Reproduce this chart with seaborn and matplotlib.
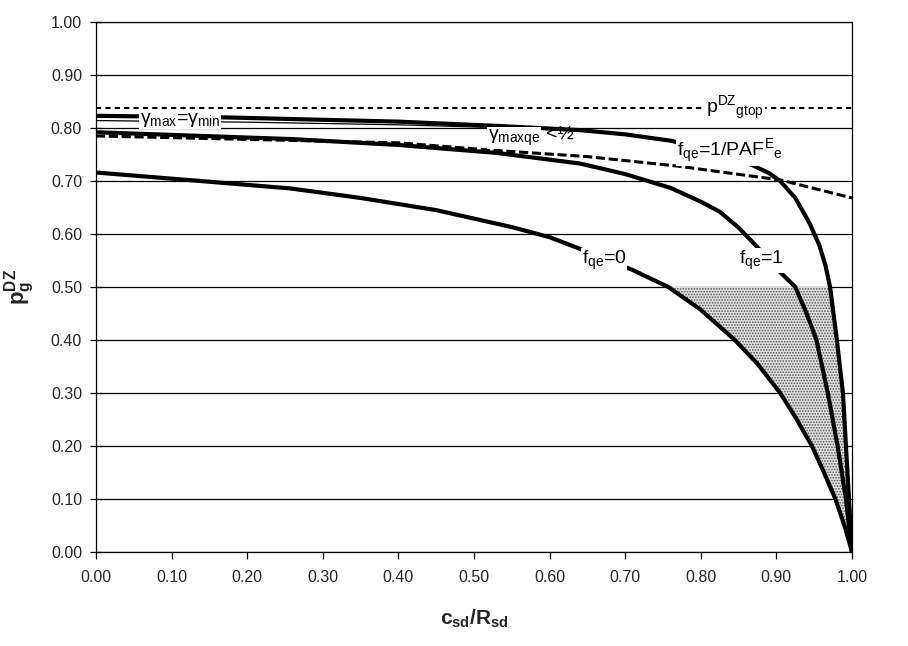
import numpy as np
import pandas as pd
import matplotlib
matplotlib.use("Agg")
import matplotlib.pyplot as plt
import seaborn as sns

# ---- data ----
x_f0 = [0.0, 0.138, 0.257, 0.35, 0.45, 0.55, 0.60, 0.64, 0.71, 0.757, 0.80, 0.845, 0.875,
        0.905, 0.927, 0.947, 0.963, 0.978, 0.990, 1.0]
y_f0 = [0.716, 0.700, 0.686, 0.668, 0.645, 0.613, 0.594, 0.572, 0.532, 0.50, 0.457, 0.40, 0.355,
        0.30, 0.25, 0.20, 0.15, 0.10, 0.05, 0.0]

x_f1 = [0.0, 0.26, 0.40, 0.53, 0.64, 0.70, 0.76, 0.80, 0.825, 0.85, 0.875, 0.90, 0.925, 0.94,
        0.953, 0.968, 0.981, 0.992, 1.0]
y_f1 = [0.792, 0.779, 0.768, 0.753, 0.733, 0.713, 0.687, 0.661, 0.642, 0.612, 0.575, 0.535, 0.50,
        0.45, 0.40, 0.30, 0.20, 0.10, 0.0]

x_paf = [0.0, 0.17, 0.40, 0.53, 0.64, 0.70, 0.76, 0.82, 0.868, 0.89, 0.905, 0.925, 0.944,
         0.957, 0.965, 0.971, 0.980, 0.988, 0.992, 0.996, 1.0]
y_paf = [0.823, 0.820, 0.812, 0.804, 0.796, 0.788, 0.776, 0.756, 0.730, 0.715, 0.700, 0.668, 0.620,
         0.578, 0.540, 0.50, 0.40, 0.30, 0.20, 0.10, 0.0]

x_gmin = [0.0, 0.20, 0.40, 0.55]
y_gmin = [0.814, 0.811, 0.806, 0.800]

x_gq = [0.0, 0.40, 0.525, 0.65, 0.77, 0.905, 1.0]
y_gq = [0.785, 0.772, 0.758, 0.746, 0.728, 0.702, 0.668]

x_top = [0.0, 1.0]
y_top = [0.838, 0.838]

shade_top = 0.50

x_ticks = [0.0, 0.1, 0.2, 0.3, 0.4, 0.5, 0.6, 0.7, 0.8, 0.9, 1.0]
y_ticks = [0.0, 0.1, 0.2, 0.3, 0.4, 0.5, 0.6, 0.7, 0.8, 0.9, 1.0]

# ---- style ----
sns.set_theme(style="white")
plt.rcParams['font.family'] = ['Liberation Sans', 'DejaVu Sans']
plt.rcParams['mathtext.fontset'] = 'custom'
plt.rcParams['mathtext.rm'] = 'Liberation Sans'
plt.rcParams['mathtext.it'] = 'Liberation Sans'
plt.rcParams['mathtext.bf'] = 'Liberation Sans:bold'
plt.rcParams['hatch.linewidth'] = 0.8

fig = plt.figure(figsize=(9.08, 6.46), dpi=100)
ax = fig.add_axes([96/908, 1-552/646, (852-96)/908, (552-22)/646])

# gridlines
for yv in y_ticks:
    ax.axhline(yv, color='black', lw=0.9, zorder=1)

# shaded region between f=0 and f=1/PAF below 0.5
yy = np.linspace(0, shade_top, 300)
xl = np.interp(yy, y_f0[::-1], x_f0[::-1])
xr = np.interp(yy, y_paf[::-1], x_paf[::-1])
ax.fill_betweenx(yy, xl, xr, facecolor='#e0e0e0', edgecolor='#555555', hatch='......',
                 lw=0, zorder=2)

def draw(xs, ys, lw, ls, dashes=None):
    df = pd.DataFrame({'x': xs, 'y': ys})
    sns.lineplot(data=df, x='x', y='y', ax=ax, color='black', lw=lw, estimator=None,
                 sort=False, zorder=3)
    line = ax.lines[-1]
    line.set_linestyle(ls)
    if dashes is not None:
        line.set_dashes(dashes)
    line.set_solid_capstyle('butt')
    line.set_dash_capstyle('butt')
    line.set_solid_joinstyle('round')
    return line

draw(x_top, y_top, 1.5, '--', (2.5, 2.0))
draw(x_gmin, y_gmin, 0.9, '-')
draw(x_gq, y_gq, 2.2, '--', (3.0, 1.2))
draw(x_f0, y_f0, 3.0, '-')
draw(x_f1, y_f1, 3.0, '-')
draw(x_paf, y_paf, 3.0, '-')

bbox = dict(boxstyle='square,pad=0.05', fc='white', ec='none')
tk = dict(ha='center', va='center', fontsize=14, color='black', zorder=5, bbox=bbox)
ax.text(0.111, 0.816, r'γ$\mathregular{_{max}}$=γ$\mathregular{_{min}}$', **tk)
ax.text(0.553, 0.781, r'γ$\mathregular{_{maxqe}}$', **tk)
ax.text(0.613, 0.787, '<½', ha='center', va='center', fontsize=14, color='black', zorder=5)
ax.text(0.845, 0.838, r'p$\mathregular{^{DZ}}$$\mathregular{_{gtop}}$', **tk)
ax.text(0.839, 0.757, r'f$\mathregular{_{qe}}$=1/PAF$\mathregular{^{E}}$$\mathregular{_{e}}$', **tk)
ax.text(0.880, 0.550, r'f$\mathregular{_{qe}}$=1', **tk)
ax.text(0.672, 0.550, r'f$\mathregular{_{qe}}$=0', **tk)

ax.set_xlim(0, 1)
ax.set_ylim(0, 1)
ax.set_xticks(x_ticks)
ax.set_yticks(y_ticks)
ax.set_xticklabels([f'{v:.2f}' for v in x_ticks], fontsize=11.5)
ax.set_yticklabels([f'{v:.2f}' for v in y_ticks], fontsize=11.5)
ax.tick_params(axis='x', direction='out', length=5, width=0.9, color='black', pad=8)
ax.tick_params(axis='y', direction='inout', length=8, width=0.9, color='black', pad=6)
ax.tick_params(bottom=True, left=True)
for s in ax.spines.values():
    s.set_color('black')
    s.set_linewidth(0.9)
    s.set_visible(True)

ax.set_xlabel(r'$\mathbf{c_{sd}/R_{sd}}$', fontsize=15, labelpad=16)
ax.set_ylabel(r'$\mathbf{p_{g}^{DZ}}$', fontsize=16, labelpad=10)

fig.savefig('out.png', dpi=100)
